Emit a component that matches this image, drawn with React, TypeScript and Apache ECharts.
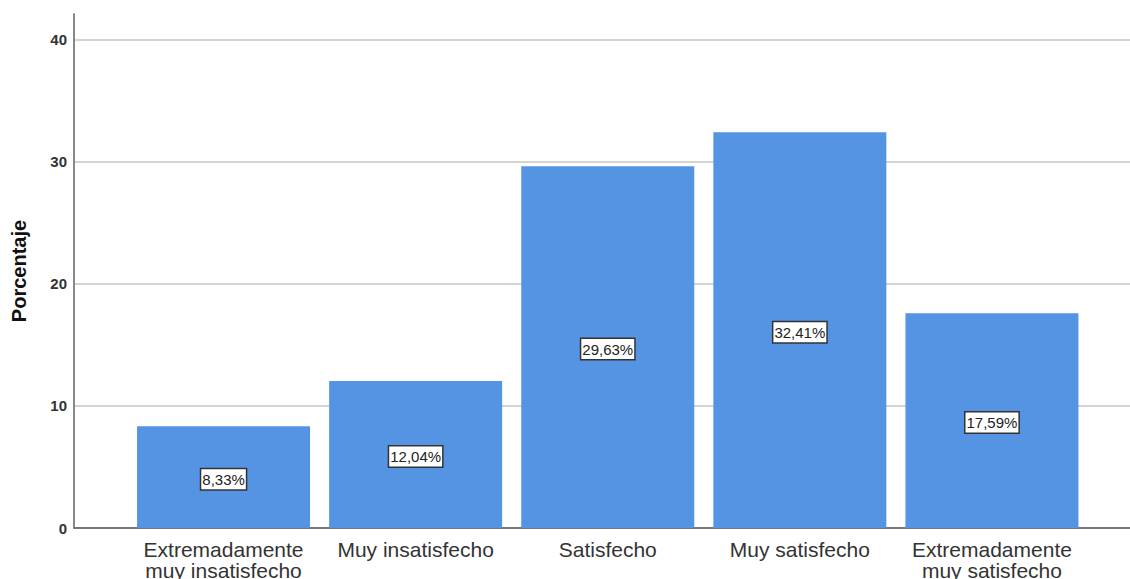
import React, { useEffect, useRef } from "react";
import * as echarts from "echarts";

const categories: string[] = [
  "Extremadamente\nmuy insatisfecho",
  "Muy insatisfecho",
  "Satisfecho",
  "Muy satisfecho",
  "Extremadamente\nmuy satisfecho",
];
const percentages: number[] = [8.33, 12.04, 29.63, 32.41, 17.59];
const yTicks: number[] = [0, 10, 20, 30, 40];
const yMax = 42.1;
const yAxisTitle = "Porcentaje";

export default function App() {
  const ref = useRef<HTMLDivElement>(null);
  useEffect(() => {
    if (!ref.current) return;
    const chart = echarts.init(ref.current, undefined, { renderer: "svg" });
    const font = "Arial, 'Liberation Sans', sans-serif";
    chart.setOption({
      animation: false,
      backgroundColor: "#ffffff",
      grid: [
        { left: 74, right: 0, top: 14, bottom: 51, outerBoundsMode: "none", containLabel: false },
        { left: 127.5, right: 42, top: 14, bottom: 51, outerBoundsMode: "none", containLabel: false },
      ],
      xAxis: [
        {
          gridIndex: 0,
          type: "category",
          data: [""],
          axisLine: { show: true, lineStyle: { color: "#777", width: 2 } },
          axisTick: { show: false },
          axisLabel: { show: false },
          splitLine: { show: false },
        },
        {
          gridIndex: 1,
          type: "category",
          data: categories,
          axisLine: { show: false },
          axisTick: { show: false },
          axisLabel: {
            interval: 0,
            margin: 11,
            fontSize: 21,
            lineHeight: 21,
            color: "#333",
            fontFamily: font,
          },
        },
      ],
      yAxis: [
        {
          gridIndex: 0,
          type: "value",
          min: 0,
          max: yMax,
          interval: 10,
          name: yAxisTitle,
          nameLocation: "middle",
          nameGap: 45,
          nameTextStyle: {
            fontSize: 20,
            fontWeight: "bold",
            color: "#111",
            fontFamily: font,
          },
          axisLine: { show: true, lineStyle: { color: "#888", width: 2 } },
          axisTick: { show: false },
          axisLabel: {
            margin: 7,
            fontSize: 15,
            fontWeight: "bold",
            color: "#333",
            fontFamily: font,
            formatter: (v: number) => (yTicks.includes(v) ? String(v) : ""),
          },
          splitLine: {
            show: true,
            showMinLine: false,
            showMaxLine: false,
            lineStyle: { color: "#d4d4d4", width: 2 },
          },
        },
        {
          gridIndex: 1,
          type: "value",
          min: 0,
          max: yMax,
          interval: 10,
          show: false,
          splitLine: { show: false },
        },
      ],
      series: [
        {
          type: "bar",
          xAxisIndex: 1,
          yAxisIndex: 1,
          data: percentages,
          barWidth: 173,
          itemStyle: { color: "#5594E3" },
          label: {
            show: true,
            position: "inside",
            offset: [0, 2],
            formatter: (p: any) => p.value.toFixed(2).replace(".", ",") + "%",
            fontSize: 15,
            color: "#222",
            fontFamily: font,
            backgroundColor: "#fff",
            borderColor: "#333",
            borderWidth: 1.5,
            padding: [3, 1, 2, 1],
          },
        },
      ],
    });
    return () => chart.dispose();
  }, []);
  return (
    <div
      ref={ref}
      style={{ position: "fixed", left: 0, top: 0, width: 1130, height: 579 }}
    />
  );
}
